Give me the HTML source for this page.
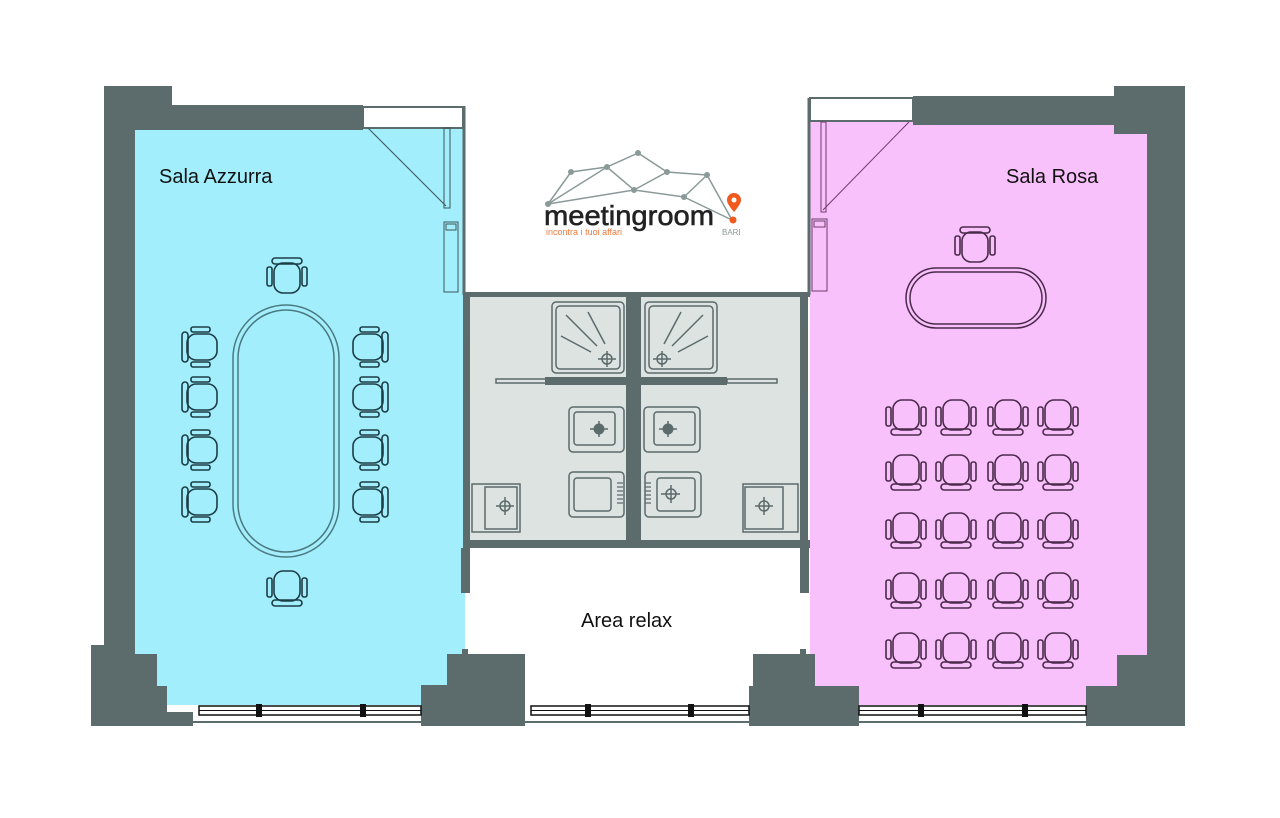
<!DOCTYPE html>
<html><head><meta charset="utf-8"><style>
html,body{margin:0;padding:0;background:#fff;}
svg{display:block;}
text{font-family:"Liberation Sans",sans-serif;}
</style></head><body>
<svg width="1280" height="818" viewBox="0 0 1280 818" xmlns="http://www.w3.org/2000/svg">
<defs>
<g id="ch" fill="none" stroke-width="1.6">
<rect x="-15" y="-20" width="30" height="6" rx="3"/>
<rect x="-13" y="-15" width="26" height="30" rx="9"/>
<rect x="-20" y="-11" width="5" height="19" rx="2"/>
<rect x="15" y="-11" width="5" height="19" rx="2"/>
</g>
</defs>
<!-- room fills -->
<rect x="135" y="128" width="330" height="577" fill="#a3eefc"/>
<rect x="810" y="122" width="338" height="583" fill="#f9c1fb"/>
<rect x="465" y="296" width="343" height="250" fill="#dde3e1"/>
<!-- walls -->
<g fill="#5c6b6b">
<rect x="104" y="86" width="31" height="570"/>
<rect x="104" y="86" width="68" height="20"/>
<rect x="104" y="105" width="259" height="25"/>
<rect x="91" y="654" width="66" height="72"/>
<rect x="91" y="645" width="44" height="15"/>
<rect x="150" y="686" width="17" height="40"/>
<rect x="160" y="712" width="33" height="14"/>
<rect x="421" y="685" width="30" height="41"/>
<rect x="447" y="654" width="78" height="72"/>
<rect x="749" y="686" width="110" height="40"/>
<rect x="753" y="654" width="62" height="40"/>
<rect x="913" y="96" width="210" height="29"/>
<rect x="1114" y="86" width="65" height="48"/>
<rect x="1147" y="86" width="38" height="570"/>
<rect x="1117" y="655" width="68" height="40"/>
<rect x="1086" y="686" width="99" height="40"/>
<!-- center -->
<rect x="463" y="292" width="347" height="5"/>
<rect x="463" y="292" width="7" height="256"/>
<rect x="800" y="292" width="8" height="256"/>
<rect x="463" y="540" width="347" height="8"/>
<rect x="626" y="296" width="15" height="250"/>
<rect x="545" y="377" width="182" height="8"/>
<rect x="461" y="548" width="9" height="45"/>
<rect x="800" y="548" width="9" height="45"/>
<rect x="462" y="649" width="6" height="7"/>
<rect x="800" y="649" width="6" height="7"/>
</g>
<!-- top window boxes -->
<rect x="363" y="107" width="100" height="21" fill="#fff" stroke="#5c6b6b" stroke-width="2"/>
<rect x="810" y="98" width="103" height="23" fill="#fff" stroke="#5c6b6b" stroke-width="2"/>
<line x1="464" y1="106" x2="464" y2="295" stroke="#5c6b6b" stroke-width="3"/>
<line x1="809" y1="98" x2="809" y2="295" stroke="#5c6b6b" stroke-width="3"/>
<!-- door swings -->
<g fill="none" stroke="#3d5656" stroke-width="1">
<line x1="368" y1="128" x2="446" y2="206"/>
<rect x="444" y="128" width="6" height="80"/>
<rect x="444" y="222" width="14" height="70"/>
<rect x="446" y="224" width="10" height="6"/>
</g>
<g fill="none" stroke="#6b3d6b" stroke-width="1">
<line x1="909" y1="122" x2="823" y2="210"/>
<rect x="821" y="122" width="5" height="90"/>
<rect x="812" y="219" width="15" height="72"/>
<rect x="814" y="221" width="11" height="6"/>
</g>
<!-- bottom windows -->
<g fill="#fff" stroke="#111" stroke-width="1.5">
<rect x="199" y="706" width="222" height="9"/>
<rect x="531" y="706" width="218" height="9"/>
<rect x="859" y="706" width="227" height="9"/>
</g>
<g stroke="#111" stroke-width="1"><line x1="199" y1="710.5" x2="421" y2="710.5"/><line x1="531" y1="710.5" x2="749" y2="710.5"/><line x1="859" y1="710.5" x2="1086" y2="710.5"/></g>
<g fill="#111"><rect x="256" y="704" width="6" height="13"/><rect x="360" y="704" width="6" height="13"/><rect x="585" y="704" width="6" height="13"/><rect x="688" y="704" width="6" height="13"/><rect x="918" y="704" width="6" height="13"/><rect x="1022" y="704" width="6" height="13"/></g>
<line x1="193" y1="722" x2="421" y2="722" stroke="#5c6b6b" stroke-width="2"/>
<line x1="525" y1="722" x2="749" y2="722" stroke="#5c6b6b" stroke-width="2"/>
<line x1="859" y1="722" x2="1086" y2="722" stroke="#5c6b6b" stroke-width="2"/>
<!-- bathroom fixtures -->
<g fill="none" stroke="#5c6b6b" stroke-width="1.5">
<rect x="552" y="302" width="72" height="71" rx="4"/><rect x="556" y="306" width="64" height="63" rx="4"/>
<rect x="645" y="302" width="72" height="71" rx="4"/><rect x="649" y="306" width="64" height="63" rx="4"/>
<line x1="566" y1="315" x2="597" y2="346"/><line x1="588" y1="312" x2="605" y2="344"/><line x1="561" y1="336" x2="591" y2="352"/>
<line x1="703" y1="315" x2="672" y2="346"/><line x1="681" y1="312" x2="664" y2="344"/><line x1="708" y1="336" x2="678" y2="352"/>
<circle cx="607" cy="359" r="5"/><line x1="598" y1="359" x2="616" y2="359"/><line x1="607" y1="351" x2="607" y2="367"/>
<circle cx="662" cy="359" r="5"/><line x1="653" y1="359" x2="671" y2="359"/><line x1="662" y1="351" x2="662" y2="367"/>
<rect x="569" y="407" width="55" height="45" rx="4"/><rect x="574" y="412" width="41" height="33" rx="3"/>
<rect x="644" y="407" width="56" height="45" rx="4"/><rect x="654" y="412" width="41" height="33" rx="3"/>
<line x1="590" y1="429" x2="608" y2="429"/><line x1="599" y1="421" x2="599" y2="437"/>
<line x1="659" y1="429" x2="677" y2="429"/><line x1="668" y1="421" x2="668" y2="437"/>
<rect x="569" y="472" width="55" height="45" rx="4"/><rect x="574" y="478" width="37" height="33" rx="3"/>
<rect x="645" y="472" width="56" height="45" rx="4"/><rect x="657" y="478" width="38" height="33" rx="3"/>
<circle cx="671" cy="494" r="5"/><line x1="661" y1="494" x2="680" y2="494"/><line x1="671" y1="485" x2="671" y2="503"/>
<rect x="472" y="484" width="48" height="48"/><rect x="485" y="487" width="32" height="42"/>
<circle cx="505" cy="506" r="5"/><line x1="496" y1="506" x2="514" y2="506"/><line x1="505" y1="497" x2="505" y2="515"/>
<rect x="743" y="484" width="55" height="48"/><rect x="745" y="487" width="38" height="42"/>
<circle cx="764" cy="506" r="5"/><line x1="755" y1="506" x2="773" y2="506"/><line x1="764" y1="497" x2="764" y2="515"/>
<rect x="496" y="379" width="50" height="4"/><rect x="727" y="379" width="50" height="4"/>
<rect x="466" y="340" width="3" height="55"/><rect x="803" y="327" width="4" height="65"/>
</g>
<g fill="#5c6b6b"><circle cx="599" cy="429" r="5.5"/><circle cx="668" cy="429" r="5.5"/></g>
<g fill="none" stroke="#5c6b6b" stroke-width="1.2">
<path d="M617 483h6M617 487h6M617 491h6M617 495h6M617 499h6M617 503h6"/>
<path d="M645 483h6M645 487h6M645 491h6M645 495h6M645 499h6M645 503h6"/>
</g>
<!-- left table -->
<g fill="none" stroke="#4a7a80" stroke-width="1.5">
<rect x="233" y="305" width="106" height="252" rx="53"/>
<rect x="238" y="310" width="96" height="242" rx="48"/>
</g>
<g stroke="#1d3d45">
<use href="#ch" transform="translate(287,278)"/>
<use href="#ch" transform="translate(287,586) rotate(180)"/>
<use href="#ch" transform="translate(202,347) rotate(-90)"/>
<use href="#ch" transform="translate(202,397) rotate(-90)"/>
<use href="#ch" transform="translate(202,450) rotate(-90)"/>
<use href="#ch" transform="translate(202,502) rotate(-90)"/>
<use href="#ch" transform="translate(368,347) rotate(90)"/>
<use href="#ch" transform="translate(368,397) rotate(90)"/>
<use href="#ch" transform="translate(368,450) rotate(90)"/>
<use href="#ch" transform="translate(368,502) rotate(90)"/>
</g>
<!-- right table -->
<g fill="none" stroke="#4a2a4a" stroke-width="1.5">
<rect x="906" y="268" width="140" height="60" rx="30"/>
<rect x="910" y="272" width="132" height="52" rx="26"/>
</g>
<g stroke="#4a2a4a">
<use href="#ch" transform="translate(975,247)"/>
<g id="row">
<use href="#ch" transform="translate(906,415) rotate(180)"/>
<use href="#ch" transform="translate(956,415) rotate(180)"/>
<use href="#ch" transform="translate(1008,415) rotate(180)"/>
<use href="#ch" transform="translate(1058,415) rotate(180)"/>
</g>
<use href="#row" transform="translate(0,55)"/>
<use href="#row" transform="translate(0,113)"/>
<use href="#row" transform="translate(0,173)"/>
<use href="#row" transform="translate(0,233)"/>
</g>
<!-- labels -->
<text x="159" y="183" font-size="20" fill="#111">Sala Azzurra</text>
<text x="1006" y="183" font-size="20" fill="#111">Sala Rosa</text>
<text x="581" y="627" font-size="20" fill="#111">Area relax</text>
<!-- logo -->
<g stroke="#8a9a98" stroke-width="1.5" fill="none">
<path d="M548 204L571 172L607 167L638 153L667 172L707 175L732 220M548 204L607 167L634 190L667 172M548 204L634 190L684 197L707 175M684 197L732 220"/>
</g>
<g fill="#8a9a98"><circle cx="548" cy="204" r="3"/><circle cx="571" cy="172" r="3"/><circle cx="607" cy="167" r="3"/><circle cx="638" cy="153" r="3"/><circle cx="634" cy="190" r="3"/><circle cx="667" cy="172" r="3"/><circle cx="707" cy="175" r="3"/><circle cx="684" cy="197" r="3"/></g>
<circle cx="733" cy="220" r="3.5" fill="#f05a1e"/>
<path d="M734 212 C728 205 727 202 727 200 A7 7 0 0 1 741 200 C741 202 740 205 734 212Z" fill="#f05a1e"/>
<circle cx="734" cy="200" r="2.5" fill="#fff"/>
<text x="544" y="225" font-size="28" fill="#222" stroke="#222" stroke-width="0.6" textLength="170" lengthAdjust="spacingAndGlyphs">meetingroom</text>
<text x="546" y="235" font-size="9" fill="#f07a3e" textLength="76" lengthAdjust="spacingAndGlyphs">incontra i tuoi affari</text>
<text x="722" y="235" font-size="8" fill="#8a9a98">BARI</text>
</svg>
</body></html>
